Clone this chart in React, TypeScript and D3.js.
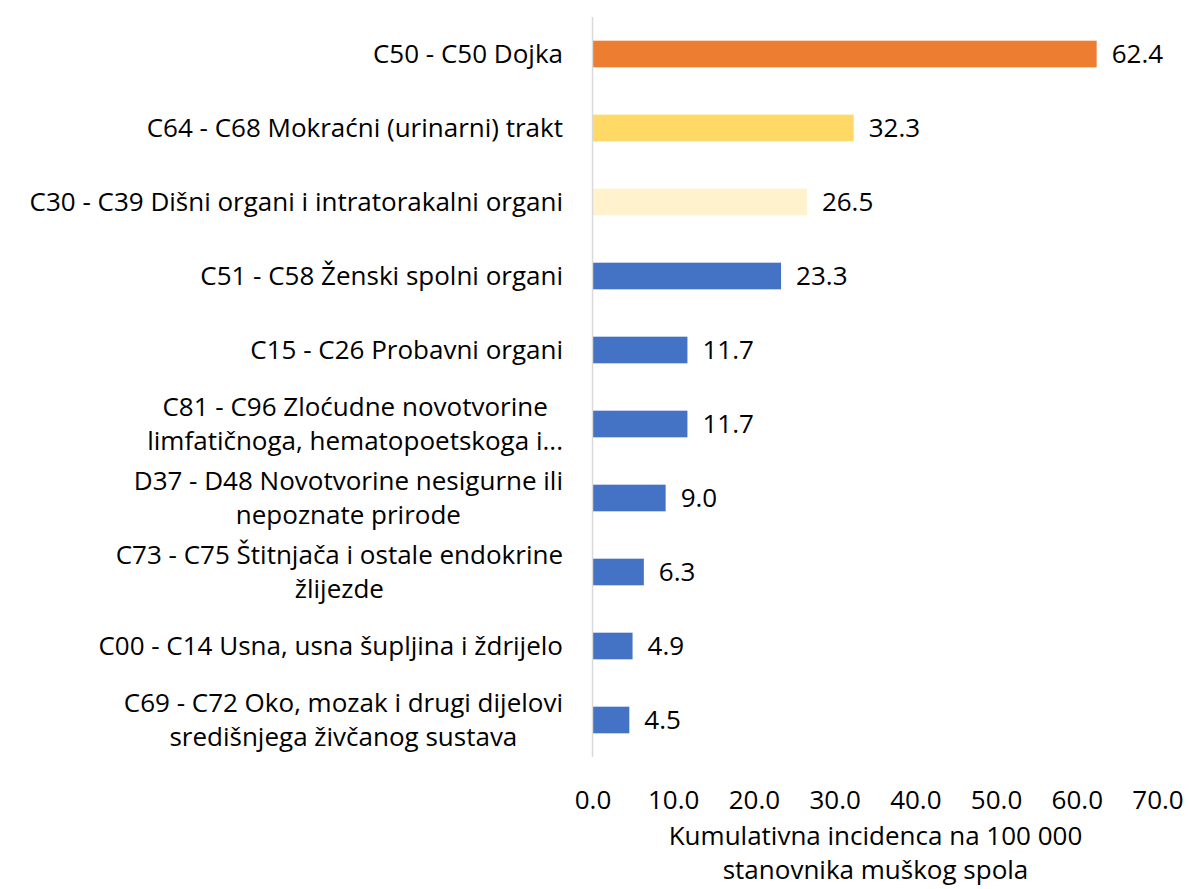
import React, { useEffect, useRef } from 'react';
import * as d3 from 'd3';

const categories: string[][] = [
  ['C50 - C50 Dojka'],
  ['C64 - C68 Mokraćni (urinarni) trakt'],
  ['C30 - C39 Dišni organi i intratorakalni organi'],
  ['C51 - C58 Ženski spolni organi'],
  ['C15 - C26 Probavni organi'],
  ['C81 - C96 Zloćudne novotvorine', 'limfatičnoga, hematopoetskoga i...'],
  ['D37 - D48 Novotvorine nesigurne ili', 'nepoznate prirode'],
  ['C73 - C75 Štitnjača i ostale endokrine', 'žlijezde'],
  ['C00 - C14 Usna, usna šupljina i ždrijelo'],
  ['C69 - C72 Oko, mozak i drugi dijelovi', 'središnjega živčanog sustava'],
];
const values = [62.4, 32.3, 26.5, 23.3, 11.7, 11.7, 9.0, 6.3, 4.9, 4.5];
const barColors = ['#ED7D31', '#FFD966', '#FFF2CC', '#4472C4', '#4472C4', '#4472C4', '#4472C4', '#4472C4', '#4472C4', '#4472C4'];
const xTicks = [0, 10, 20, 30, 40, 50, 60, 70];
const axisTitle = ['Kumulativna incidenca na 100 000', 'stanovnika muškog spola'];

const FONT = '"Open Sans", sans-serif';

export default function App() {
  const ref = useRef<SVGSVGElement>(null);

  useEffect(() => {
    const svg = d3.select(ref.current);
    svg.selectAll('*').remove();

    const W = 1189;
    const H = 889;
    const left = 593;
    const right = 1158;
    const top = 17;
    const bottom = 757;
    const fontSize = 26;

    const x = d3.scaleLinear().domain([0, 70]).range([left, right]);
    const y = d3
      .scaleBand<number>()
      .domain(d3.range(values.length))
      .range([top, bottom])
      .paddingInner(0.64)
      .paddingOuter(0.32);

    svg.attr('width', W).attr('height', H).attr('viewBox', `0 0 ${W} ${H}`);

    // bars
    svg
      .append('g')
      .selectAll('rect')
      .data(values)
      .join('rect')
      .attr('x', x(0))
      .attr('y', (_, i) => y(i)!)
      .attr('width', (d) => x(d) - x(0))
      .attr('height', y.bandwidth())
      .attr('fill', (_, i) => barColors[i]);

    // vertical axis line
    svg
      .append('line')
      .attr('x1', x(0) - 0.5)
      .attr('x2', x(0) - 0.5)
      .attr('y1', top)
      .attr('y2', bottom)
      .attr('stroke', '#d9d9d9')
      .attr('stroke-width', 1.5);

    // value labels
    svg
      .append('g')
      .selectAll('text')
      .data(values)
      .join('text')
      .attr('x', (d) => x(d) + 15)
      .attr('y', (_, i) => y(i)! + y.bandwidth() / 2)
      .attr('dy', '0.36em')
      .attr('font-family', FONT)
      .attr('font-size', fontSize)
      .attr('fill', '#000')
      .text((d) => d.toFixed(1));

    // category labels (multi-line blocks are right-aligned, lines centred)
    const labelRight = x(0) - 30;
    const lineH = 34;
    categories.forEach((lines, i) => {
      const cy = y(i)! + y.bandwidth() / 2;
      const g = svg.append('g');
      const texts = lines.map((line, j) =>
        g
          .append('text')
          .attr('y', cy + (j - (lines.length - 1) / 2) * lineH)
          .attr('dy', '0.36em')
          .attr('font-family', FONT)
          .attr('font-size', fontSize)
          .attr('fill', '#000')
          .attr('text-anchor', 'middle')
          .text(line),
      );
      const maxW = d3.max(texts, (t) => (t.node() as SVGTextElement).getComputedTextLength()) || 0;
      texts.forEach((t) => t.attr('x', labelRight - maxW / 2));
    });

    // x tick labels
    svg
      .append('g')
      .selectAll('text')
      .data(xTicks)
      .join('text')
      .attr('x', (d) => x(d))
      .attr('y', 800)
      .attr('dy', '0.36em')
      .attr('text-anchor', 'middle')
      .attr('font-family', FONT)
      .attr('font-size', fontSize)
      .attr('fill', '#000')
      .text((d) => d.toFixed(1));

    // axis title
    axisTitle.forEach((line, j) => {
      svg
        .append('text')
        .attr('x', (left + right) / 2)
        .attr('y', 836 + j * 34)
        .attr('dy', '0.36em')
        .attr('text-anchor', 'middle')
        .attr('font-family', FONT)
        .attr('font-size', fontSize)
        .attr('fill', '#000')
        .text(line);
    });
  }, []);

  return <svg ref={ref} style={{ display: 'block', position: 'absolute', left: 0, top: 0 }} />;
}
